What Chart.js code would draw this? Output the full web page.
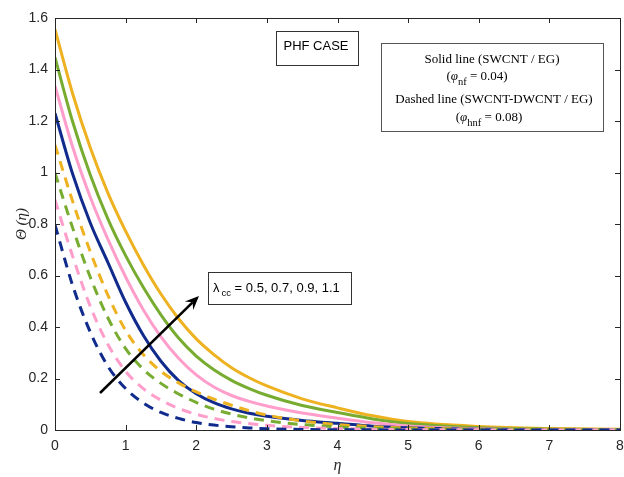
<!DOCTYPE html>
<html>
<head>
<meta charset="utf-8">
<script src="https://cdn.jsdelivr.net/npm/chart.js@4.4.1/dist/chart.umd.min.js"></script>
<style>
  html, body { margin: 0; padding: 0; background: #fff; }
</style>
</head>
<body>
<canvas id="thetaChart" width="624" height="477"></canvas>
<script>
// eta grid and temperature profiles
const eta = [0, 0.25, 0.5, 0.75, 1, 1.25, 1.5, 1.75, 2, 2.25, 2.5, 2.75, 3, 3.5, 4, 4.5, 5, 6, 7, 8];
const lambdaValues = ["0.5", "0.7", "0.9", "1.1"];
const lineColors = ["#102b8c", "#ff9dcb", "#77ac30", "#eeb120"];

// solid: SWCNT / EG
const solidL05 = [1.23, 0.994, 0.804, 0.65, 0.496, 0.368, 0.267, 0.192, 0.141, 0.106, 0.082, 0.065, 0.053, 0.037, 0.026, 0.015, 0.009, 0.003, 0.001, 0];
const solidL07 = [1.336, 1.099, 0.904, 0.74, 0.594, 0.467, 0.362, 0.279, 0.214, 0.167, 0.134, 0.111, 0.093, 0.066, 0.046, 0.028, 0.016, 0.005, 0.0015, 0.0005];
const solidL09 = [1.447, 1.197, 0.99, 0.819, 0.677, 0.554, 0.447, 0.357, 0.287, 0.234, 0.193, 0.161, 0.135, 0.095, 0.068, 0.043, 0.025, 0.009, 0.003, 0.001];
const solidL11 = [1.556, 1.306, 1.096, 0.92, 0.772, 0.642, 0.528, 0.432, 0.354, 0.293, 0.242, 0.203, 0.171, 0.121, 0.086, 0.055, 0.033, 0.014, 0.006, 0.003];

// dashed: SWCNT-DWCNT / EG
const dashL05 = [0.796, 0.561, 0.38, 0.247, 0.161, 0.105, 0.068, 0.045, 0.029, 0.019, 0.0125, 0.008, 0.005, 0.002, 0.001, 0.0005, 0, 0, 0, 0];
const dashL07 = [0.893, 0.675, 0.48, 0.332, 0.228, 0.161, 0.116, 0.084, 0.061, 0.045, 0.033, 0.025, 0.018, 0.01, 0.0055, 0.003, 0.0017, 0.0005, 0, 0];
const dashL09 = [0.998, 0.785, 0.593, 0.435, 0.316, 0.236, 0.181, 0.14, 0.107, 0.081, 0.062, 0.047, 0.036, 0.021, 0.012, 0.007, 0.004, 0.0013, 0.0004, 0];
const dashL11 = [1.107, 0.888, 0.692, 0.523, 0.387, 0.293, 0.228, 0.183, 0.148, 0.12, 0.096, 0.075, 0.058, 0.035, 0.021, 0.013, 0.008, 0.003, 0.001, 0];

const solidSets = [solidL05, solidL07, solidL09, solidL11];
const dashSets = [dashL05, dashL07, dashL09, dashL11];

const toPoints = vals => vals.map((v, i) => ({ x: eta[i], y: v }));

let datasets = [];
dashSets.forEach((vals, i) => {
    datasets.push({
        label: "hnf λ=" + lambdaValues[i],
        data: toPoints(vals),
        borderColor: lineColors[i],
        borderWidth: 3,
        borderDash: [10, 7],
        pointRadius: 0,
        cubicInterpolationMode: "monotone",
        fill: false
    });
});
solidSets.forEach((vals, i) => {
    datasets.push({
        label: "nf λ=" + lambdaValues[i],
        data: toPoints(vals),
        borderColor: lineColors[i],
        borderWidth: 3,
        pointRadius: 0,
        cubicInterpolationMode: "monotone",
        fill: false
    });
});

const axisColor = "#262626";
const sans = "'Liberation Sans', Arial, sans-serif";
const serif = "'Liberation Serif', 'Times New Roman', serif";

// draws a line of text pieces (with subscripts) centred on cx
function drawRich(ctx, parts, cx, baseline) {
    let total = 0;
    parts.forEach(p => { ctx.font = p.font; total += ctx.measureText(p.t).width; });
    let x = cx - total / 2;
    parts.forEach(p => {
        ctx.font = p.font;
        ctx.fillText(p.t, x, baseline + (p.dy || 0));
        x += ctx.measureText(p.t).width;
    });
}

const framePlugin = {
    id: "frame",
    afterDraw(chart) {
        const { ctx, chartArea: a, scales: { x, y } } = chart;
        ctx.save();
        ctx.strokeStyle = axisColor;
        ctx.lineWidth = 1;
        ctx.strokeRect(a.left + 0.5, a.top + 0.5, a.right - a.left, a.bottom - a.top);

        // inward ticks on all four sides
        ctx.beginPath();
        x.ticks.forEach(t => {
            let px = Math.round(x.getPixelForValue(t.value)) + 0.5;
            ctx.moveTo(px, a.bottom); ctx.lineTo(px, a.bottom - 5);
            ctx.moveTo(px, a.top); ctx.lineTo(px, a.top + 5);
        });
        y.ticks.forEach(t => {
            let py = Math.round(y.getPixelForValue(t.value)) + 0.5;
            ctx.moveTo(a.left, py); ctx.lineTo(a.left + 5, py);
            ctx.moveTo(a.right, py); ctx.lineTo(a.right - 5, py);
        });
        ctx.stroke();

        // PHF CASE box
        ctx.fillStyle = "#fff";
        ctx.fillRect(276, 31, 82, 34);
        ctx.strokeStyle = "#333";
        ctx.strokeRect(276.5, 31.5, 82, 34);
        ctx.fillStyle = "#000";
        ctx.textBaseline = "alphabetic";
        ctx.textAlign = "left";
        drawRich(ctx, [{ t: "PHF CASE", font: "13px " + sans }], 316, 50);

        // line-type legend box
        ctx.fillStyle = "#fff";
        ctx.fillRect(381, 43, 222, 88);
        ctx.strokeStyle = "#555";
        ctx.strokeRect(381.5, 43.5, 222, 88);
        ctx.fillStyle = "#000";
        const f = "13px " + serif, fi = "italic 13px " + serif, fs = "10.5px " + serif;
        drawRich(ctx, [{ t: "Solid line (SWCNT / EG)", font: f }], 492, 63);
        drawRich(ctx, [{ t: "(", font: f }, { t: "φ", font: fi }, { t: "nf", font: fs, dy: 5 }, { t: " = 0.04)", font: f }], 477, 80);
        drawRich(ctx, [{ t: "Dashed line (SWCNT-DWCNT / EG)", font: f }], 494, 103);
        drawRich(ctx, [{ t: "(", font: f }, { t: "φ", font: fi }, { t: "hnf", font: fs, dy: 5 }, { t: " = 0.08)", font: f }], 489, 121);

        // lambda box
        ctx.fillStyle = "#fff";
        ctx.fillRect(208, 272, 143, 32);
        ctx.strokeStyle = "#333";
        ctx.strokeRect(208.5, 272.5, 143, 32);
        ctx.fillStyle = "#000";
        ctx.font = "13px " + sans;
        ctx.fillText("λ", 213, 292);
        ctx.font = "9.5px " + sans;
        ctx.fillText("cc", 221.5, 296);
        ctx.font = "13px " + sans;
        ctx.fillText(" = 0.5, 0.7, 0.9, 1.1", 231, 292);

        // arrow showing increasing lambda
        const x0 = 100, y0 = 393, x1 = 199, y1 = 296;
        const ang = Math.atan2(y1 - y0, x1 - x0);
        const c = Math.cos(ang), s = Math.sin(ang);
        ctx.strokeStyle = "#000";
        ctx.lineWidth = 2.5;
        ctx.beginPath();
        ctx.moveTo(x0, y0);
        ctx.lineTo(x1 - 9 * c, y1 - 9 * s);
        ctx.stroke();
        ctx.fillStyle = "#000";
        ctx.beginPath();
        ctx.moveTo(x1, y1);
        ctx.lineTo(x1 - 14 * c + 6 * s, y1 - 14 * s - 6 * c);
        ctx.lineTo(x1 - 9 * c, y1 - 9 * s);
        ctx.lineTo(x1 - 14 * c - 6 * s, y1 - 14 * s + 6 * c);
        ctx.closePath();
        ctx.fill();
        ctx.restore();
    }
};

let ctx = document.getElementById("thetaChart").getContext("2d");
new Chart(ctx, {
    type: "line",
    data: { datasets: datasets },
    options: {
        responsive: false,
        animation: false,
        devicePixelRatio: 1,
        layout: { padding: { top: 18, right: 4, left: 0, bottom: 0 } },
        plugins: { legend: { display: false }, tooltip: { enabled: false } },
        scales: {
            x: {
                type: "linear",
                min: 0,
                max: 8,
                afterFit: s => { s.height = 47; s.paddingRight = 0; s.paddingLeft = 0; },
                grid: { display: false, drawTicks: false },
                border: { display: false },
                ticks: { stepSize: 1, padding: 8, color: axisColor, font: { family: sans, size: 14 } },
                title: {
                    display: true,
                    text: "η",
                    color: axisColor,
                    padding: { top: 0, bottom: 2 },
                    font: { family: serif, size: 16, style: "italic" }
                }
            },
            y: {
                min: 0,
                max: 1.6,
                afterFit: s => { s.width = 55; },
                grid: { display: false, drawTicks: false },
                border: { display: false },
                ticks: {
                    stepSize: 0.2,
                    padding: 7,
                    color: axisColor,
                    font: { family: sans, size: 14 },
                    callback: v => String(Number(v.toFixed(1)))
                },
                title: {
                    display: true,
                    text: "Θ (η)",
                    color: axisColor,
                    padding: { top: 13, bottom: 0 },
                    font: { family: serif, size: 15, style: "italic" }
                }
            }
        }
    },
    plugins: [framePlugin]
});
</script>
</body>
</html>
